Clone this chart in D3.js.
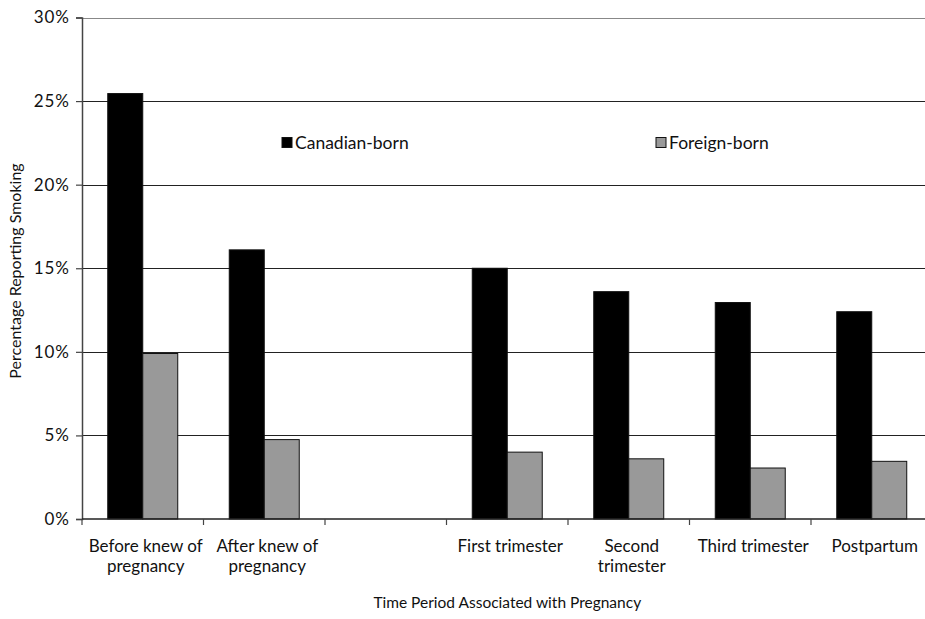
<!DOCTYPE html>
<html><head><meta charset="utf-8">
<script src="https://cdn.jsdelivr.net/npm/d3@7"></script>
<style>body{margin:0;background:#fff}svg{display:block}text{font-family:Lato,"Open Sans",sans-serif;fill:#111}</style>
</head><body><svg id="c" width="925" height="619"></svg>
<script>
const categories = ["Before knew of pregnancy","After knew of pregnancy","","First trimester","Second trimester","Third trimester","Postpartum"];
const categoryLines = [["Before knew of","pregnancy"],["After knew of","pregnancy"],[""],["First trimester"],["Second","trimester"],["Third trimester"],["Postpartum"]];
const seriesNames = ["Canadian-born","Foreign-born"];
const canadianBorn = [25.45, 16.1, null, 15.0, 13.6, 12.95, 12.4];
const foreignBorn = [9.9, 4.75, null, 4.0, 3.6, 3.05, 3.45];
const yTicks = [0,5,10,15,20,25,30];
const colors = ["#000000","#999999"];

const svg = d3.select("#c");
const L = 82, R = 932.5, T = 17.5, B = 519;
const x = d3.scaleBand().domain(categories.map((d,i)=>i)).range([L,R]).padding(0);
const x1 = d3.scaleBand().domain(seriesNames).range([0,x.bandwidth()]).paddingInner(0).paddingOuter(0.736);
const y = d3.scaleLinear().domain([0,30]).range([B,T]);

// gridlines
svg.append("g").selectAll("line").data(yTicks.filter(d=>d>0)).join("line")
  .attr("x1",L).attr("x2",R).attr("y1",d=>Math.round(y(d))+0.5).attr("y2",d=>Math.round(y(d))+0.5)
  .attr("stroke",d=>d===30?"#888":"#222").attr("stroke-width",1.2);

// bars
const data = categories.map((c,i)=>({i, vals:[canadianBorn[i],foreignBorn[i]]}));
const g = svg.append("g").selectAll("g").data(data).join("g").attr("transform",d=>`translate(${x(d.i)},0)`);
g.selectAll("rect").data(d=>d.vals.map((v,k)=>({v,k})).filter(e=>e.v!=null)).join("rect")
  .attr("x",e=>x1(seriesNames[e.k])).attr("width",x1.bandwidth())
  .attr("y",e=>y(e.v)).attr("height",e=>B-y(e.v))
  .attr("fill",e=>colors[e.k]).attr("stroke","#111").attr("stroke-width",1);

// y axis
const ya = svg.append("g").attr("transform",`translate(${L},0)`)
  .call(d3.axisLeft(y).tickValues(yTicks).tickFormat(d=>d+"%").tickSize(6).tickPadding(6));
ya.select(".domain").attr("stroke","#444").attr("stroke-width",1.5);
ya.selectAll(".tick line").attr("stroke","#444").attr("stroke-width",1.2);
ya.selectAll(".tick text").attr("font-size",17).attr("fill","#111").style("font-family","Lato").style("letter-spacing","1px");

// x axis
const xa = svg.append("g").attr("transform",`translate(0,${B})`);
xa.append("line").attr("x1",L).attr("x2",R).attr("y1",0).attr("y2",0).attr("stroke","#222").attr("stroke-width",1.5);
xa.selectAll(".tk").data(d3.range(categories.length+1)).join("line").attr("class","tk")
  .attr("x1",i=>L+i*x.step()).attr("x2",i=>L+i*x.step()).attr("y1",0).attr("y2",6)
  .attr("stroke","#444").attr("stroke-width",1.2);
const lbl = xa.selectAll(".lb").data(categoryLines).join("text").attr("class","lb")
  .attr("text-anchor","middle").attr("font-size",17)
  .attr("transform",(d,i)=>`translate(${x(i)+x.bandwidth()/2+3},33)`);
lbl.selectAll("tspan").data(d=>d).join("tspan").attr("x",0).attr("dy",(d,j)=>j?20:0).text(d=>d);

// legend
const leg = [{n:seriesNames[0],x:282},{n:seriesNames[1],x:656}];
leg.forEach((l,k)=>{
  svg.append("rect").attr("x",l.x).attr("y",137.5).attr("width",10).attr("height",10)
    .attr("fill",colors[k]).attr("stroke","#111").attr("stroke-width",1);
  svg.append("text").attr("x",l.x+13).attr("y",148.5).attr("font-size",17.5).text(l.n);
});

// axis titles
svg.append("text").attr("x",(L+R)/2).attr("y",608).attr("text-anchor","middle").attr("font-size",15.5)
  .text("Time Period Associated with Pregnancy");
svg.append("text").attr("transform",`translate(21,271) rotate(-90)`).attr("text-anchor","middle")
  .attr("font-size",16).text("Percentage Reporting Smoking");
</script></body></html>
